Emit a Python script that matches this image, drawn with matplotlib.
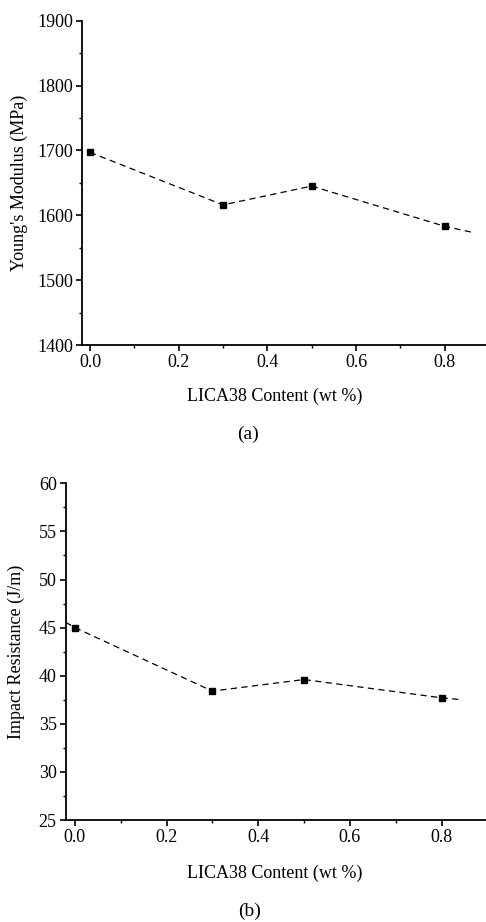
import matplotlib
matplotlib.use('Agg')
import matplotlib.pyplot as plt
from matplotlib.ticker import MultipleLocator

plt.rcParams['font.family'] = ['Liberation Serif', 'DejaVu Serif']

# LICA38 content (wt %)
content = [0.0, 0.3, 0.5, 0.8]

# (a) Young's modulus, MPa
modulus = [1697, 1616, 1645, 1583]
# dashed connector as drawn, including its tail past the last point
modulus_line_x = [0.0, 0.3, 0.5, 0.8, 0.86]
modulus_line_y = [1697, 1616, 1645, 1583, 1574]

# (b) Impact resistance, J/m
impact = [45.0, 38.4, 39.6, 37.7]
impact_line_x = [-0.02, 0.0, 0.3, 0.5, 0.8, 0.845]
impact_line_y = [45.55, 45.0, 38.4, 39.6, 37.7, 37.5]

W, H = 486, 922
fig = plt.figure(figsize=(W / 100, H / 100), dpi=100)


def make_axes(left, top, bottom):
    return fig.add_axes([left / W, 1 - bottom / H, (W - left) / W, (bottom - top) / H])


def style(ax):
    for s in ['top', 'right']:
        ax.spines[s].set_visible(False)
    for s in ['left', 'bottom']:
        ax.spines[s].set_linewidth(1.3)
    ax.tick_params(which='major', direction='out', length=4, width=1.2, labelsize=13, pad=2.5)
    ax.tick_params(which='minor', direction='out', length=2.5, width=1.0)
    ax.xaxis.set_major_locator(MultipleLocator(0.2))
    ax.xaxis.set_minor_locator(MultipleLocator(0.1))


# panel (a)
ax1 = make_axes(82, 20.7, 345)
ax1.plot(modulus_line_x, modulus_line_y, '--', color='black', lw=0.9, dashes=(5, 3.5))
ax1.plot(content, modulus, 's', color='black', markersize=4.2)
ax1.set_xlim(-0.018, 0.893)
ax1.set_ylim(1400, 1900)
ax1.yaxis.set_major_locator(MultipleLocator(100))
ax1.yaxis.set_minor_locator(MultipleLocator(50))
ax1.set_ylabel("Young's Modulus (MPa)", fontsize=13)
ax1.set_xlabel('LICA38 Content (wt %)', fontsize=13, va='top')
ax1.yaxis.set_label_coords(-0.134, 0.5)
ax1.xaxis.set_label_coords(0.478, -0.133)
style(ax1)

# panel (b)
ax2 = make_axes(65.7, 483.3, 820)
ax2.plot(impact_line_x, impact_line_y, '--', color='black', lw=0.9, dashes=(5, 3.5))
ax2.plot(content, impact, 's', color='black', markersize=4.2)
ax2.set_xlim(-0.02, 0.897)
ax2.set_ylim(25, 60)
ax2.yaxis.set_major_locator(MultipleLocator(5))
ax2.yaxis.set_minor_locator(MultipleLocator(2.5))
ax2.set_ylabel('Impact Resistance (J/m)', fontsize=13)
ax2.set_xlabel('LICA38 Content (wt %)', fontsize=13, va='top')
ax2.yaxis.set_label_coords(-0.097, 0.5)
ax2.xaxis.set_label_coords(0.498, -0.134)
style(ax2)

fig.text(248 / W, 1 - 434 / H, '(a)', ha='center', va='center', fontsize=14)
fig.text(250 / W, 1 - 911 / H, '(b)', ha='center', va='center', fontsize=14)

fig.savefig('out.png', dpi=100)
